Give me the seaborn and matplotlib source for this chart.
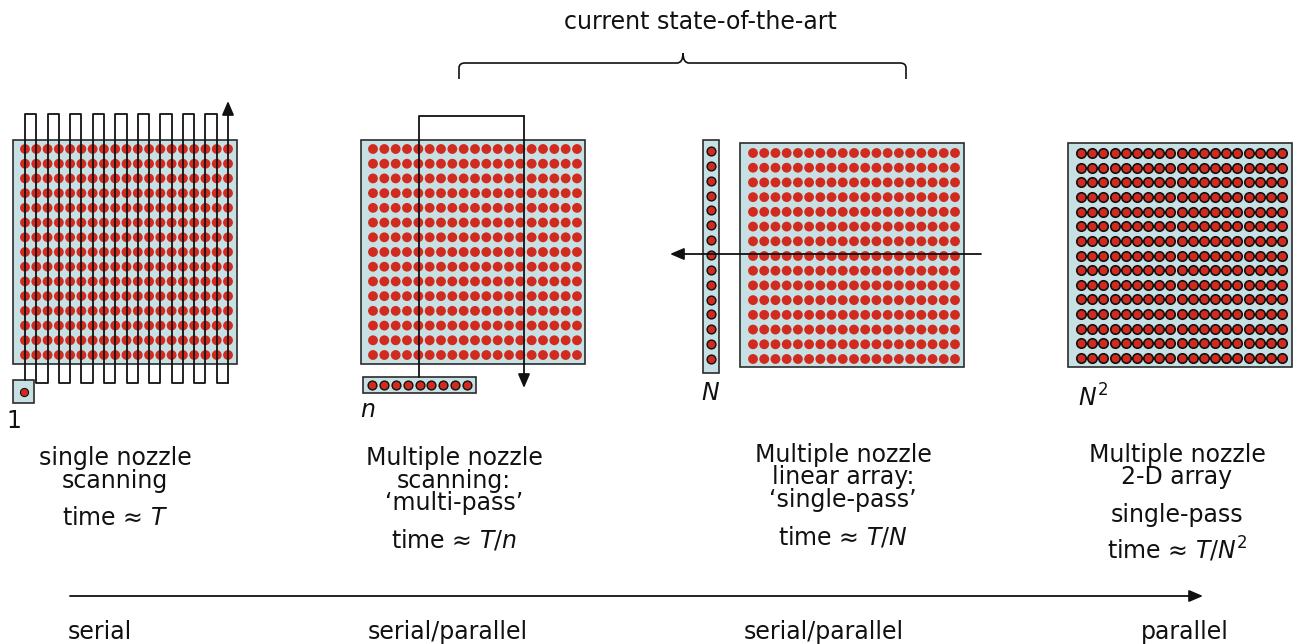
import numpy as np
import pandas as pd
import matplotlib
matplotlib.use("Agg")
import matplotlib.pyplot as plt
from matplotlib.patches import Rectangle, PathPatch
from matplotlib.path import Path
import seaborn as sns

# ---- data -------------------------------------------------------------
grid_cols = 19
grid_rows = 15
n_nozzles = 9
N_nozzles = 15
serpentine_passes = 19

desc_lines = [
    ["single nozzle", "scanning"],
    ["Multiple nozzle", "scanning:", "\u2018multi-pass\u2019"],
    ["Multiple nozzle", "linear array:", "\u2018single-pass\u2019"],
    ["Multiple nozzle", "2-D array"],
]
time_lines = [
    ["time \u2248 $T$"],
    ["time \u2248 $T$/$n$"],
    ["time \u2248 $T$/$N$"],
    ["single-pass", "time \u2248 $T$/$N^{\\mathregular{2}}$"],
]
nozzle_labels = ["1", "$n$", "$N$", "$N^{\\mathregular{2}}$"]
scale_labels = ["serial", "serial/parallel", "serial/parallel", "parallel"]
bracket_label = "current state-of-the-art"

# ---- layout -------------------------------------------------------------
W, H = 1297, 644
fill = "#c7e0e4"
dot_red = "#d12a1e"
edge = "#2b2b2b"
FS = 17

# substrate rectangles (x0, y0, x1, y1) and dot grid extents
rects = [(13, 140, 237, 364), (361, 140, 585, 364), (740, 143, 964, 367), (1068, 143, 1292, 367)]
grids = [(25, 149, 228, 355), (373, 149, 577, 355), (753, 153, 955, 359), (1081, 153, 1282, 358)]
centers = [115, 454, 843, 1177]
desc_y = [[458, 481], [458, 481, 503], [455, 477, 500], [455, 477]]
time_y = [[518], [540], [537], [515, 550]]
label_pos = [(14, 421), (368, 410), (711, 393), (1093, 398)]
scale_x = [100, 448, 824, 1185]

sns.set_theme(style="white")
plt.rcParams["font.family"] = ["DejaVu Sans"]
plt.rcParams["mathtext.fontset"] = "dejavusans"

fig = plt.figure(figsize=(W / 100, H / 100), dpi=100)
ax = fig.add_axes([0, 0, 1, 1])
ax.set_xlim(0, W)
ax.set_ylim(H, 0)
ax.axis("off")


def box(x0, y0, x1, y1):
    ax.add_patch(Rectangle((x0, y0), x1 - x0, y1 - y0, facecolor=fill,
                           edgecolor=edge, lw=1.2, zorder=1))


def grid_frame(g):
    xs = np.linspace(g[0], g[2], grid_cols)
    ys = np.linspace(g[1], g[3], grid_rows)
    gx, gy = np.meshgrid(xs, ys)
    return pd.DataFrame({"x": gx.ravel(), "y": gy.ravel()})


# substrates and printed dots
for i, (r, g) in enumerate(zip(rects, grids)):
    box(*r)
    df = grid_frame(g)
    if i == 3:
        sns.scatterplot(data=df, x="x", y="y", ax=ax, s=46, color=dot_red,
                        edgecolor="#111111", linewidth=1.2, zorder=3, legend=False)
    else:
        sns.scatterplot(data=df, x="x", y="y", ax=ax, s=50, color=dot_red,
                        edgecolor="none", linewidth=0, zorder=3, legend=False)

arrow_kw = dict(arrowstyle="-|>,head_length=0.7,head_width=0.3", color="#111111",
                lw=1.3, shrinkA=0, shrinkB=0)

# panel 1: single nozzle + serpentine scan
box(13, 380, 34, 403)
sns.scatterplot(x=[24], y=[391.5], ax=ax, s=34, color=dot_red, edgecolor="#111111",
                linewidth=0.8, zorder=4, legend=False)
lx = np.linspace(grids[0][0], grids[0][2], serpentine_passes)
top, bot = 114, 383
px, py = [lx[0]], [380]
for k, x in enumerate(lx[:-1]):
    y = top if k % 2 == 0 else bot
    px += [x, lx[k + 1]]
    py += [y, y]
ax.plot(px, py, color="#111111", lw=1.3, zorder=5)
ax.annotate("", xy=(lx[-1], 101), xytext=(lx[-1], bot), arrowprops=arrow_kw, zorder=5)

# panel 2: n-nozzle head, multi-pass scan
box(363, 377, 476, 393)
hx = np.linspace(372, 467, n_nozzles)
sns.scatterplot(x=hx, y=np.full(n_nozzles, 385), ax=ax, s=40, color=dot_red,
                edgecolor="#111111", linewidth=1.0, zorder=4, legend=False)
ax.plot([419, 419, 524], [377, 116, 116], color="#111111", lw=1.3, zorder=5)
ax.annotate("", xy=(524, 388), xytext=(524, 116), arrowprops=arrow_kw, zorder=5)

# panel 3: linear array N, single pass
box(703, 140, 719, 373)
vy = np.linspace(151, 359, N_nozzles)
sns.scatterplot(x=np.full(N_nozzles, 711), y=vy, ax=ax, s=40, color=dot_red,
                edgecolor="#111111", linewidth=1.0, zorder=4, legend=False)
ax.annotate("", xy=(670, 254), xytext=(981, 254), arrowprops=arrow_kw, zorder=5)

# nozzle count labels
for (x, y), t in zip(label_pos, nozzle_labels):
    ax.text(x, y, t, fontsize=FS, ha="center", va="center", color="#111111")

# description text
for cx, lines, ys in zip(centers, desc_lines, desc_y):
    for t, y in zip(lines, ys):
        ax.text(cx, y, t, fontsize=FS, ha="center", va="center", color="#111111")
for cx, lines, ys in zip(centers, time_lines, time_y):
    for t, y in zip(lines, ys):
        ax.text(cx, y, t, fontsize=FS, ha="center", va="center", color="#111111")

# curly bracket
x0, x1, xm, yl, ye, yt = 459, 906, 683, 63, 79, 53
verts = [(x0, ye), (x0, yl + 5), (x0, yl), (x0 + 6, yl), (xm - 6, yl), (xm, yl), (xm, yt),
         (xm, yt), (xm, yl), (xm + 6, yl), (x1 - 6, yl), (x1, yl), (x1, yl + 5), (x1, ye)]
codes = [Path.MOVETO, Path.LINETO, Path.CURVE3, Path.CURVE3, Path.LINETO, Path.CURVE3, Path.CURVE3,
         Path.MOVETO, Path.CURVE3, Path.CURVE3, Path.LINETO, Path.CURVE3, Path.CURVE3, Path.LINETO]
ax.add_patch(PathPatch(Path(verts, codes), fill=False, edgecolor="#111111", lw=1.2))
ax.text(700, 22, bracket_label, fontsize=FS, ha="center", va="center", color="#111111")

# serial -> parallel axis
ax.annotate("", xy=(1203, 596), xytext=(70, 596), arrowprops=arrow_kw)
for x, t in zip(scale_x, scale_labels):
    ax.text(x, 632, t, fontsize=FS, ha="center", va="center", color="#111111")

fig.savefig("out.png", dpi=100)
